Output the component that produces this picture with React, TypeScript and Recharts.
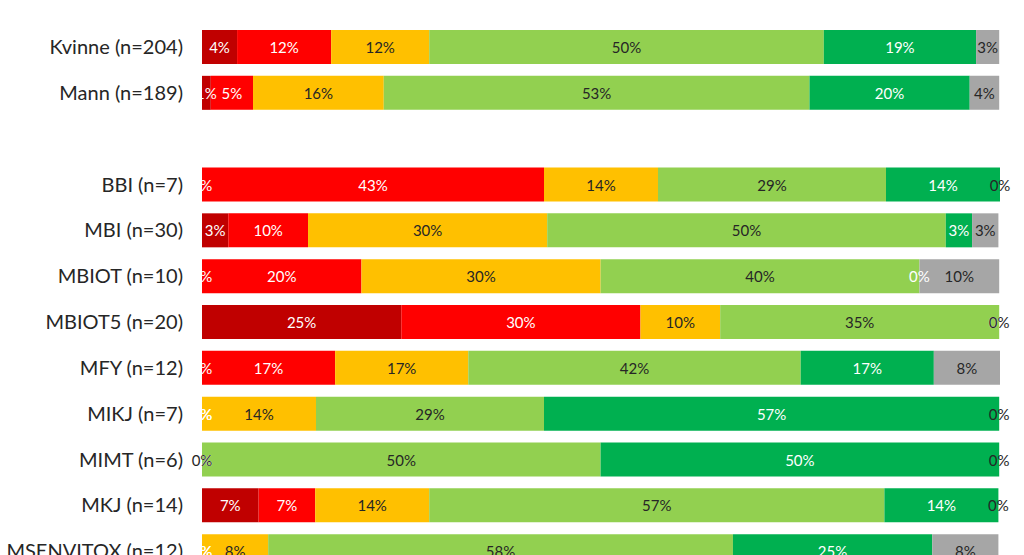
import React from 'react';
import { BarChart, Bar, XAxis, YAxis, LabelList } from 'recharts';

const categories = ['Kvinne (n=204)', 'Mann (n=189)', '', 'BBI (n=7)', 'MBI (n=30)', 'MBIOT (n=10)', 'MBIOT5 (n=20)', 'MFY (n=12)', 'MIKJ (n=7)', 'MIMT (n=6)', 'MKJ (n=14)', 'MSENVITOX (n=12)'];
const darkRed = [4.4, 1.1, null, 0, 3.3, 0, 25, 0, 0, 0, 7.1, 0];
const red = [11.8, 5.3, null, 42.9, 10, 20, 30, 16.7, 0, 0, 7.1, 0];
const orange = [12.3, 16.4, null, 14.3, 30, 30, 10, 16.7, 14.3, 0, 14.3, 8.3];
const lightGreen = [49.5, 53.4, null, 28.6, 50, 40, 35, 41.7, 28.6, 50, 57.1, 58.3];
const green = [19.1, 20.1, null, 14.3, 3.3, 0, 0, 16.7, 57.1, 50, 14.3, 25];
const grey = [2.9, 3.7, null, 0, 3.3, 10, 0, 8.3, 0, 0, 0, 8.3];

const seriesDefs = [
  { key: 'darkRed', values: darkRed, color: '#C00000', text: '#FFFFFF' },
  { key: 'red', values: red, color: '#FF0000', text: '#FFFFFF' },
  { key: 'orange', values: orange, color: '#FFC000', text: '#262626' },
  { key: 'lightGreen', values: lightGreen, color: '#92D050', text: '#262626' },
  { key: 'green', values: green, color: '#00B050', text: '#FFFFFF' },
  { key: 'grey', values: grey, color: '#A6A6A6', text: '#262626' },
];

const data = categories.map((name, i) => {
  const row: Record<string, any> = { name };
  seriesDefs.forEach((s) => {
    row[s.key] = s.values[i];
  });
  return row;
});

// Recharts hands the label list only the non-zero segments of a series,
// so map each label's index back to its data row.
const labelledRows = seriesDefs.map((s) =>
  s.values.map((v, i) => (v !== null && (v as number) > 0 ? i : -1)).filter((i) => i >= 0)
);

const FONT = 'Lato, "Open Sans", sans-serif';

const labelText = (key: string | number, x: number, y: number, fill: string, value: number) => (
  <text
    key={key}
    x={x}
    y={y}
    fill={fill}
    fontSize={15}
    fontFamily={FONT}
    textAnchor="middle"
    dominantBaseline="central"
  >
    {`${Math.round(value)}%`}
  </text>
);

// Label renderer for series si: draws its own label, plus labels of zero-valued
// series lying on this segment's edges.
const makeLabel = (si: number) => (props: any) => {
  const { x, y, width, height, value, index } = props;
  if (value === null || value === undefined || !(value > 0)) return null;
  let row = -1;
  const p = props.payload;
  if (p && typeof p.name === 'string') row = categories.indexOf(p.name);
  if (row < 0) row = labelledRows[si][index];
  const cy = y + height / 2;
  const out: any[] = [];
  let j = si - 1;
  const before: number[] = [];
  while (j >= 0 && seriesDefs[j].values[row] === 0) {
    before.unshift(j);
    j--;
  }
  before.forEach((k) => out.push(labelText(`b${k}`, x, cy, seriesDefs[k].text, 0)));
  out.push(labelText('self', x + width / 2, cy, seriesDefs[si].text, value));
  let allZeroAfter = true;
  for (let k = si + 1; k < seriesDefs.length; k++) {
    if (seriesDefs[k].values[row] !== 0) allZeroAfter = false;
  }
  if (allZeroAfter) {
    for (let k = si + 1; k < seriesDefs.length; k++) {
      out.push(labelText(`a${k}`, x + width, cy, seriesDefs[k].text, 0));
    }
  }
  return <g>{out}</g>;
};

export default function App() {
  return (
    <div style={{ position: 'fixed', left: 0, top: 0, width: 1024, height: 555, overflow: 'hidden', background: '#fff' }}>
      <BarChart
        width={1024}
        height={574}
        data={data}
        layout="vertical"
        margin={{ top: 24, right: 24, bottom: 0, left: 0 }}
        barSize={34}
      >
        <XAxis type="number" domain={[0, 100]} hide />
        <YAxis
          type="category"
          dataKey="name"
          width={202}
          axisLine={false}
          tickLine={false}
          tickSize={0}
          tickMargin={19}
          interval={0}
          tick={{ fontSize: 20, fill: '#262626', fontFamily: FONT }}
        />
        {seriesDefs.map((s, si) => (
          <Bar key={s.key} dataKey={s.key} stackId="a" fill={s.color} isAnimationActive={false}>
            <LabelList dataKey={s.key} content={makeLabel(si)} />
          </Bar>
        ))}
      </BarChart>
    </div>
  );
}
